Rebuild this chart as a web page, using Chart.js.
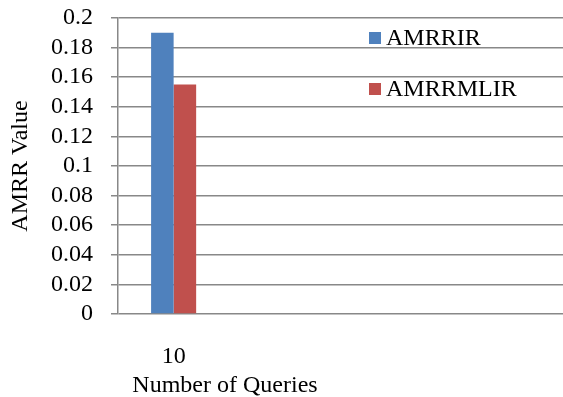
<!DOCTYPE html>
<html>
<head>
<meta charset="utf-8">
<script src="https://cdn.jsdelivr.net/npm/chart.js@4/dist/chart.umd.min.js"></script>
<style>
  html, body { margin: 0; padding: 0; background: #fff; }
  #wrap { width: 563px; height: 397px; }
</style>
</head>
<body>
<div id="wrap"><canvas id="chartAmrr" width="563" height="397"></canvas></div>
<script>
// number of queries (the axis keeps room for more groups on the right)
const queryLabels = ['10'];
const freeSlots = ['', '', ''];
const amrrirValues = [0.19];
const amrrmlirValues = [0.155];
const seriesNames = ['AMRRIR', 'AMRRMLIR'];
const seriesColors = ['#4F81BD', '#C0504D'];
const yMin = 0;
const yMax = 0.2;
const yStep = 0.02;

const SERIF = "'Liberation Serif', 'Times New Roman', serif";
const GRID = '#888888';
const FONT_SIZE = 24;

const AmrrChart = {

    construct(){
        Chart.defaults.font.family = SERIF
        Chart.defaults.color = '#000'

        const ctx = document.getElementById('chartAmrr');
        const myChart = new Chart(ctx, {
            type: 'bar',
            data: {
                labels: queryLabels.concat(freeSlots),
                datasets: [
                    { label: seriesNames[0], data: amrrirValues, backgroundColor: seriesColors[0] },
                    { label: seriesNames[1], data: amrrmlirValues, backgroundColor: seriesColors[1] }
                ]
            },
            options: {
                responsive: false,
                animation: false,
                devicePixelRatio: 1,
                layout: { padding: { top: 18, right: 0, bottom: 0, left: 0 } },
                datasets: {
                    bar: { barPercentage: 1, categoryPercentage: 0.405 }
                },
                plugins: {
                    legend: { display: false },
                    tooltip: { enabled: false }
                },
                scales: {
                    x: {
                        grid: { display: false },
                        border: { display: false },
                        ticks: { padding: 20, font: { size: FONT_SIZE }, maxRotation: 0 },
                        afterFit(scale){ scale.height = 83 }
                    },
                    y: {
                        min: yMin,
                        max: yMax,
                        grid: { color: GRID, lineWidth: 1.5, tickLength: 7 },
                        border: { color: GRID, width: 1.5 },
                        ticks: {
                            stepSize: yStep,
                            autoSkip: false,
                            padding: 18,
                            font: { size: FONT_SIZE },
                            callback: (v) => parseFloat(Number(v).toFixed(2)).toString()
                        },
                        title: {
                            display: true,
                            text: 'AMRR Value',
                            font: { size: FONT_SIZE },
                            padding: { top: 6, bottom: 0 }
                        },
                        afterFit(scale){
                            scale.width = 118
                            // label padding would push the plot down, the layout padding handles it
                            scale.paddingTop = 0
                            scale.paddingBottom = 0
                        }
                    }
                }
            },
            plugins: [AmrrChart.legendPlugin, AmrrChart.xTitlePlugin]
        });
    },

    // legend sits inside the plot, upper right
    legendPlugin: {
        id: 'amrrLegend',
        afterDraw(chart){
            const c = chart.ctx
            const rows = [38, 89]
            c.save()
            c.font = FONT_SIZE + 'px ' + SERIF
            c.textBaseline = 'middle'
            c.textAlign = 'left'
            chart.data.datasets.forEach((ds, i) => {
                c.fillStyle = ds.backgroundColor
                c.fillRect(369, rows[i] - 6, 12, 12)
                c.fillStyle = '#000'
                c.fillText(ds.label, 386, rows[i] + 1)
            })
            c.restore()
        }
    },

    xTitlePlugin: {
        id: 'amrrXTitle',
        afterDraw(chart){
            const c = chart.ctx
            c.save()
            c.font = FONT_SIZE + 'px ' + SERIF
            c.fillStyle = '#000'
            c.textAlign = 'center'
            c.textBaseline = 'alphabetic'
            c.fillText('Number of Queries', 225, 392)
            c.restore()
        }
    }
}

AmrrChart.construct()
</script>
</body>
</html>
